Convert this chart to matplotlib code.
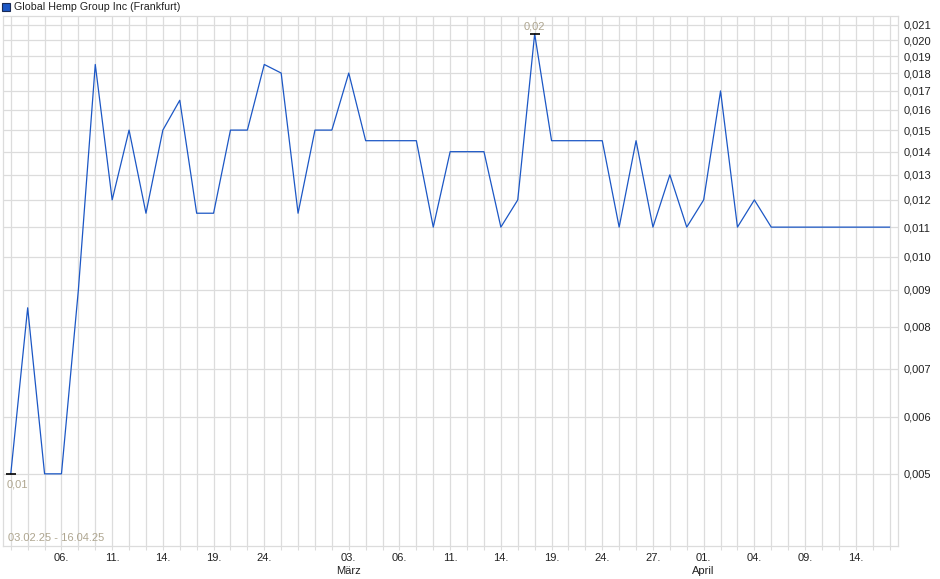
import numpy as np
import matplotlib
matplotlib.use("Agg")
import matplotlib.pyplot as plt
from matplotlib.ticker import FixedLocator, FixedFormatter, NullLocator
import matplotlib.transforms as mtransforms

plt.rcParams['font.family'] = ['Liberation Sans', 'DejaVu Sans']

# trading days 03.02.25 - 16.04.25
days = ["03.02", "04.02", "05.02", "06.02", "07.02", "10.02", "11.02", "12.02", "13.02", "14.02",
        "17.02", "18.02", "19.02", "20.02", "21.02", "24.02", "25.02", "26.02", "27.02", "28.02",
        "03.03", "04.03", "05.03", "06.03", "07.03", "10.03", "11.03", "12.03", "13.03", "14.03",
        "17.03", "18.03", "19.03", "20.03", "21.03", "24.03", "25.03", "26.03", "27.03", "28.03",
        "31.03", "01.04", "02.04", "03.04", "04.04", "07.04", "08.04", "09.04", "10.04", "11.04",
        "14.04", "15.04", "16.04"]

prices = [0.005, 0.0085, 0.005, 0.005, 0.009, 0.0185, 0.012, 0.015, 0.0115, 0.015,
          0.0165, 0.0115, 0.0115, 0.015, 0.015, 0.0185, 0.018, 0.0115, 0.015, 0.015,
          0.018, 0.0145, 0.0145, 0.0145, 0.0145, 0.011, 0.014, 0.014, 0.014, 0.011,
          0.012, 0.0204, 0.0145, 0.0145, 0.0145, 0.0145, 0.011, 0.0145, 0.011, 0.013,
          0.011, 0.012, 0.017, 0.011, 0.012, 0.011, 0.011, 0.011, 0.011, 0.011,
          0.011, 0.011, 0.011]

# x labels shown under the chart
label_days = ["06.02", "11.02", "14.02", "19.02", "24.02", "03.03", "06.03", "11.03", "14.03",
              "19.03", "24.03", "27.03", "01.04", "04.04", "09.04", "14.04"]
months = {"03.03": "März", "01.04": "April"}

y_ticks = [0.005, 0.006, 0.007, 0.008, 0.009, 0.010, 0.011, 0.012, 0.013, 0.014,
           0.015, 0.016, 0.017, 0.018, 0.019, 0.020, 0.021]
y_labels = ["0,005", "0,006", "0,007", "0,008", "0,009", "0,010", "0,011", "0,012", "0,013",
            "0,014", "0,015", "0,016", "0,017", "0,018", "0,019", "0,020", "0,021"]

line_col = "#1c57c5"
grid_col = "#dcdcdc"
note_col = "#aea58f"

W, H = 940, 579
fig = plt.figure(figsize=(W / 100, H / 100), dpi=100)
ax = fig.add_axes([3 / W, (H - 546) / H, (898 - 3) / W, (546 - 16) / H])

x = np.arange(len(days))
ax.plot(x, prices, color=line_col, lw=0.9, zorder=3)

ax.set_yscale("log")
ax.set_ylim(0.00397, 0.0216)
ax.set_xlim(-0.46, len(days) - 0.5)

ax.yaxis.set_major_locator(FixedLocator(y_ticks))
ax.yaxis.set_major_formatter(FixedFormatter(y_labels))
ax.yaxis.set_minor_locator(NullLocator())
ax.yaxis.tick_right()
ax.tick_params(axis="y", length=0, pad=4, labelsize=8, colors="#222222")

ax.set_xticks(x)
ax.set_xticklabels([d[:3] if d in label_days else "" for d in days])
ax.tick_params(axis="x", length=3, width=0.8, color=grid_col, pad=2, labelsize=8, labelcolor="#222222")

ax.grid(True, color=grid_col, lw=0.9, zorder=0)
ax.set_axisbelow(True)
for s in ax.spines.values():
    s.set_color(grid_col)
    s.set_linewidth(0.9)

trans = mtransforms.blended_transform_factory(ax.transData, ax.transAxes)
for d, m in months.items():
    ax.text(days.index(d), -0.038, m, transform=trans, ha="center", va="top", fontsize=8, color="#222222")

# low / high markers
lo = int(np.argmin(prices))
hi = int(np.argmax(prices))
ax.plot([lo], [prices[lo]], marker="_", ms=7, mew=1.2, color="black", zorder=4)
ax.plot([hi], [prices[hi]], marker="_", ms=7, mew=1.2, color="black", zorder=4)
ax.annotate("0,01", (lo, prices[lo]), xytext=(-3, -4), textcoords="offset points",
            ha="left", va="top", fontsize=8, color=note_col)
ax.annotate("0,02", (hi, prices[hi]), xytext=(0, 2), textcoords="offset points",
            ha="center", va="bottom", fontsize=8, color=note_col)

ax.text(5 / 895, 0.006, "03.02.25 - 16.04.25", transform=ax.transAxes,
        ha="left", va="bottom", fontsize=8, color=note_col)

# legend box at the top
fig.patches.append(plt.Rectangle((2 / W, 1 - 11 / H), 8 / W, 8 / H, transform=fig.transFigure,
                                 facecolor=line_col, edgecolor="#1a2a55", lw=0.8))
fig.text(14 / W, 1 - 7 / H, "Global Hemp Group Inc (Frankfurt)", ha="left", va="center",
         fontsize=7.7, color="#222222")

fig.savefig("out.png", dpi=100)
